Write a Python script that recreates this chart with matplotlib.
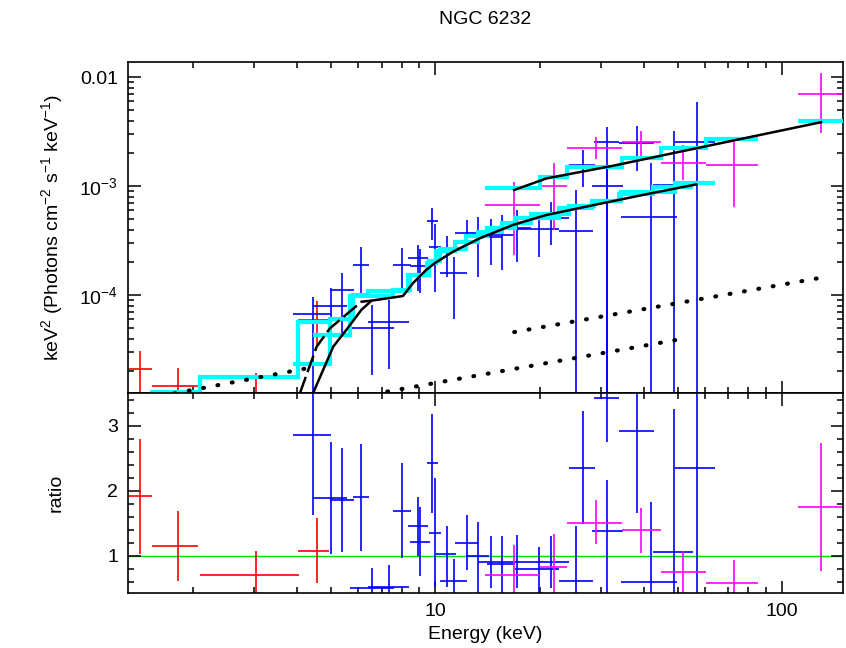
import numpy as np
import matplotlib
matplotlib.use('Agg')
import matplotlib.pyplot as plt
from matplotlib.ticker import LogLocator, MultipleLocator, NullFormatter

# ---- data (energies in keV) ----

# red spectrum (low energy)
red_e = [1.41, 1.81, 3.05, 4.55]
red_elo = [1.25, 1.52, 2.10, 4.01]
red_ehi = [1.52, 2.07, 4.04, 4.94]
red_flux = [2.09e-5, 1.46e-5, 1.25e-5, 5.93e-5]
red_flux_lo = [1e-5, 1e-5, 1e-5, 3.38e-5]
red_flux_hi = [3.08e-5, 2.17e-5, 1.92e-5, 8.87e-5]
red_ratio = [1.92, 1.15, 0.71, 1.07]
red_ratio_lo = [1.03, 0.61, 0.3, 0.575]
red_ratio_hi = [2.80, 1.69, 1.07, 1.575]
red_model = [1.09e-5, 1.29e-5, 1.79e-5, 5.69e-5]

# blue spectra (two interleaved sets)
fpma_e = [4.43, 5.39, 6.11, 7.38, 8.93, 9.97, 11.33, 13.27, 15.60, 19.89, 25.54, 31.32, 41.93, 56.75]
fpma_elo = [3.88, 4.96, 5.79, 6.40, 8.34, 9.58, 10.34, 12.28, 14.15, 17.04, 22.71, 28.27, 34.36, 49.25]
fpma_ehi = [4.99, 5.83, 6.44, 8.39, 9.52, 10.40, 12.37, 14.34, 17.04, 22.81, 28.46, 34.72, 49.68, 64.24]
fpma_flux = [6.67e-5, 1.13e-4, 1.90e-4, 5.69e-5, 2.22e-4, 2.79e-4, 1.61e-4, 3.43e-4, 3.57e-4, 4.06e-4, 3.89e-4, 1.01e-3, 5.20e-4, 2.53e-3]
fpma_flux_lo = [1e-5, 4.17e-5, 1.04e-4, 2.11e-5, 1.10e-4, 1.07e-4, 6.02e-5, 1.48e-4, 1.71e-4, 2.26e-4, 1e-5, 1e-5, 1e-5, 1e-5]
fpma_flux_hi = [9.59e-5, 1.61e-4, 2.76e-4, 9.06e-5, 2.89e-4, 4.51e-4, 2.26e-4, 5.26e-4, 5.45e-4, 5.85e-4, 9.25e-4, 1.50e-3, 1.63e-3, 5.97e-3]
fpma_ratio = [2.86, 1.86, 1.90, 0.52, 1.45, 1.35, 0.61, 0.99, 0.87, 0.79, 0.61, 1.38, 0.59, 2.35]
fpma_ratio_lo = [1.62, 1.05, 1.07, 0.2, 0.99, 0.52, 0.2, 0.2, 0.2, 0.2, 0.2, 0.2, 0.2, 0.2]
fpma_ratio_hi = [3.8, 2.65, 2.72, 0.86, 1.90, 2.19, 0.95, 1.52, 1.31, 1.13, 1.45, 2.16, 1.83, 3.8]
fpma_model = [2.33e-5, 6.09e-5, 9.97e-5, 1.09e-4, 1.54e-4, 2.07e-4, 2.64e-4, 3.48e-4, 4.11e-4, 5.14e-4, 6.38e-4, 7.33e-4, 8.81e-4, 1.08e-3]

fpmb_e = [5.01, 6.58, 8.02, 9.05, 9.80, 10.80, 12.35, 14.44, 17.24, 21.59, 26.63, 31.32, 38.20, 48.93]
fpmb_elo = [4.44, 5.69, 7.55, 8.47, 9.46, 10.07, 11.44, 13.27, 15.63, 18.91, 24.27, 28.79, 33.81, 42.57]
fpmb_ehi = [5.58, 7.60, 8.49, 9.63, 10.17, 11.49, 13.27, 15.63, 18.91, 24.38, 28.92, 33.97, 42.86, 55.52]
fpmb_flux = [8.06e-5, 4.96e-5, 1.90e-4, 1.86e-4, 4.80e-4, 2.60e-4, 3.71e-4, 3.43e-4, 4.14e-4, 5.09e-4, 1.56e-3, 2.53e-3, 2.48e-3, 1.02e-3]
fpmb_flux_lo = [3.15e-5, 1.86e-5, 1.12e-4, 1.06e-4, 3.22e-4, 1.48e-4, 2.89e-4, 1.90e-4, 2.02e-4, 2.89e-4, 9.79e-4, 1e-5, 1.38e-3, 1e-5]
fpmb_flux_hi = [1.17e-4, 8.15e-5, 2.73e-4, 2.68e-4, 6.36e-4, 3.50e-4, 4.91e-4, 4.98e-4, 6.06e-4, 7.22e-4, 2.15e-3, 3.52e-3, 3.57e-3, 3.24e-3]
fpmb_ratio = [1.88, 0.51, 1.69, 1.21, 2.42, 1.02, 1.20, 0.91, 0.91, 0.91, 2.35, 3.42, 2.92, 1.05]
fpmb_ratio_lo = [1.03, 0.2, 0.96, 0.69, 1.65, 0.52, 0.78, 0.51, 0.51, 0.51, 1.48, 2.75, 1.65, 0.2]
fpmb_ratio_hi = [2.75, 0.81, 2.42, 1.75, 3.18, 1.45, 1.62, 1.31, 1.32, 1.31, 3.22, 3.9, 3.6, 3.25]
fpmb_model = [4.28e-5, 9.77e-5, 1.12e-4, 1.54e-4, 1.99e-4, 2.56e-4, 3.09e-4, 3.77e-4, 4.56e-4, 5.59e-4, 6.65e-4, 7.40e-4, 8.50e-4, 9.77e-4]

# magenta spectrum (hard X-ray)
bat_e = [16.9, 22.0, 29.1, 39.2, 52.0, 72.6, 130.0]
bat_elo = [13.9, 20.0, 24.0, 34.5, 44.9, 60.5, 111.0]
bat_ehi = [20.0, 24.0, 34.5, 44.9, 60.5, 85.2, 150.0]
bat_flux = [6.74e-4, 1.01e-3, 2.26e-3, 2.57e-3, 1.65e-3, 1.57e-3, 6.98e-3]
bat_flux_lo = [2.34e-4, 3.97e-4, 1.77e-3, 1.87e-3, 1.14e-3, 6.5e-4, 3.06e-3]
bat_flux_hi = [1.10e-3, 1.63e-3, 2.85e-3, 3.22e-3, 2.39e-3, 2.57e-3, 1.09e-2]
bat_ratio = [0.70, 0.82, 1.51, 1.39, 0.75, 0.585, 1.75]
bat_ratio_lo = [0.2, 0.2, 1.175, 1.04, 0.2, 0.2, 0.765]
bat_ratio_hi = [1.165, 1.33, 1.85, 1.73, 1.07, 0.93, 2.74]
bat_model = [9.71e-4, 1.225e-3, 1.51e-3, 1.83e-3, 2.23e-3, 2.72e-3, 3.97e-3]

# unfolded model curves
low_model_e = [4.44, 5.08, 5.54, 6.12, 6.55, 8.07, 8.62, 9.42, 9.97, 11.25, 13.43, 16.76, 20.92, 26.09, 40.6, 56.6]
low_model_f = [1.26e-5, 3.38e-5, 4.81e-5, 7.33e-5, 8.93e-5, 9.85e-5, 1.29e-4, 1.71e-4, 1.97e-4, 2.51e-4, 3.33e-4, 4.42e-4, 5.45e-4, 6.32e-4, 8.45e-4, 1.04e-3]
dash_model_e = [4.07, 4.55, 4.97, 6.13, 6.55]
dash_model_f = [1.26e-5, 3.38e-5, 4.98e-5, 8.74e-5, 8.93e-5]
high_model_e = [16.9, 20.92, 32.5, 56.6, 129.7]
high_model_f = [9.25e-4, 1.18e-3, 1.54e-3, 2.23e-3, 3.87e-3]

# dotted components
comp1_e = [1.77, 4.37]
comp1_f = [1.26e-5, 2.17e-5]
comp2_e = [6.61, 53.8]
comp2_f = [1.24e-5, 4.08e-5]
comp3_e = [16.9, 126.6]
comp3_f = [4.6e-5, 1.43e-4]

plt.rcParams['font.family'] = ['Liberation Sans', 'DejaVu Sans']
plt.rcParams['mathtext.default'] = 'regular'

fig = plt.figure(figsize=(8.46, 6.48), dpi=100)
ax1 = fig.add_axes([128 / 846, 1 - 393 / 648, 715 / 846, 331 / 648])
ax2 = fig.add_axes([128 / 846, 1 - 593 / 648, 715 / 846, 200 / 648], sharex=ax1)


def cross(ax, x, xlo, xhi, y, ylo, yhi, color):
    x, xlo, xhi = np.array(x), np.array(xlo), np.array(xhi)
    y, ylo, yhi = np.array(y), np.array(ylo), np.array(yhi)
    ax.errorbar(x, y, xerr=[x - xlo, xhi - x], yerr=[y - ylo, yhi - y],
                fmt='none', ecolor=color, elinewidth=1.2, capsize=0, zorder=2)


# top panel: data
cross(ax1, red_e, red_elo, red_ehi, red_flux, red_flux_lo, red_flux_hi, 'red')
cross(ax1, fpma_e, fpma_elo, fpma_ehi, fpma_flux, fpma_flux_lo, fpma_flux_hi, 'blue')
cross(ax1, fpmb_e, fpmb_elo, fpmb_ehi, fpmb_flux, fpmb_flux_lo, fpmb_flux_hi, 'blue')
cross(ax1, bat_e, bat_elo, bat_ehi, bat_flux, bat_flux_lo, bat_flux_hi, 'magenta')

# folded model steps
ax1.stairs(red_model, red_elo + [red_ehi[-1]], color='cyan', lw=3, baseline=None, zorder=3)
ax1.stairs(fpma_model, fpma_elo + [fpma_ehi[-1]], color='cyan', lw=3, baseline=None, zorder=3)
ax1.stairs(fpmb_model, fpmb_elo + [fpmb_ehi[-1]], color='cyan', lw=3, baseline=None, zorder=3)
ax1.stairs(bat_model[:6], bat_elo[:6] + [bat_ehi[5]], color='cyan', lw=3, baseline=None, zorder=3)
ax1.stairs(bat_model[6:], [bat_elo[6], bat_ehi[6]], color='cyan', lw=3, baseline=None, zorder=3)

# model curves
ax1.plot(low_model_e, low_model_f, color='black', lw=1.8, zorder=4)
ax1.plot(dash_model_e, dash_model_f, color='black', lw=1.8, ls=(0, (7, 2)), zorder=4)
ax1.plot(high_model_e, high_model_f, color='black', lw=1.8, zorder=4)
for ce, cf in [(comp1_e, comp1_f), (comp2_e, comp2_f), (comp3_e, comp3_f)]:
    ax1.plot(ce, cf, color='black', lw=3, ls=(0, (0.2, 3.3)),
             dash_capstyle='round', zorder=4)

ax1.set_xscale('log')
ax1.set_yscale('log')
ax1.set_xlim(1.3, 150)
ax1.set_ylim(1.27e-5, 1.38e-2)
ax1.set_yticks([1e-4, 1e-3, 1e-2])
ax1.set_yticklabels(['10$^{-4}$', '10$^{-3}$', '0.01'])
ax1.yaxis.set_minor_locator(LogLocator(base=10, subs=np.arange(2, 10), numticks=20))
ax1.yaxis.set_minor_formatter(NullFormatter())
ax1.set_ylabel('keV$^2$ (Photons cm$^{-2}$ s$^{-1}$ keV$^{-1}$)', fontsize=14)
ax1.yaxis.set_label_coords(-0.088, 0.5)
ax1.tick_params(labelbottom=False)

# bottom panel: ratio
ax2.axhline(1.0, color='#00dd00', lw=1.0, zorder=1)
cross(ax2, red_e, red_elo, red_ehi, red_ratio, red_ratio_lo, red_ratio_hi, 'red')
cross(ax2, fpma_e, fpma_elo, fpma_ehi, fpma_ratio, fpma_ratio_lo, fpma_ratio_hi, 'blue')
cross(ax2, fpmb_e, fpmb_elo, fpmb_ehi, fpmb_ratio, fpmb_ratio_lo, fpmb_ratio_hi, 'blue')
cross(ax2, bat_e, bat_elo, bat_ehi, bat_ratio, bat_ratio_lo, bat_ratio_hi, 'magenta')

ax2.set_ylim(0.426, 3.503)
ax2.set_yticks([1, 2, 3])
ax2.yaxis.set_minor_locator(MultipleLocator(0.2))
ax2.set_ylabel('ratio', fontsize=14)
ax2.yaxis.set_label_coords(-0.088, 0.5)
ax2.set_xticks([10, 100])
ax2.set_xticklabels(['10', '100'])
ax2.xaxis.set_minor_locator(LogLocator(base=10, subs=np.arange(2, 10), numticks=20))
ax2.xaxis.set_minor_formatter(NullFormatter())
ax2.set_xlabel('Energy (keV)', fontsize=14)
ax2.xaxis.set_label_coords(0.5, -0.165)

for ax in (ax1, ax2):
    ax.tick_params(which='both', direction='in', top=True, right=True, width=1.1,
                   labelsize=14, pad=7)
    ax.tick_params(which='major', length=9)
    ax.tick_params(which='minor', length=4.5)
    for s in ax.spines.values():
        s.set_linewidth(1.2)

fig.text(485.5 / 846, 1 - 20 / 648, 'NGC 6232', ha='center', va='center', fontsize=14)

fig.savefig('out.png', dpi=100)
